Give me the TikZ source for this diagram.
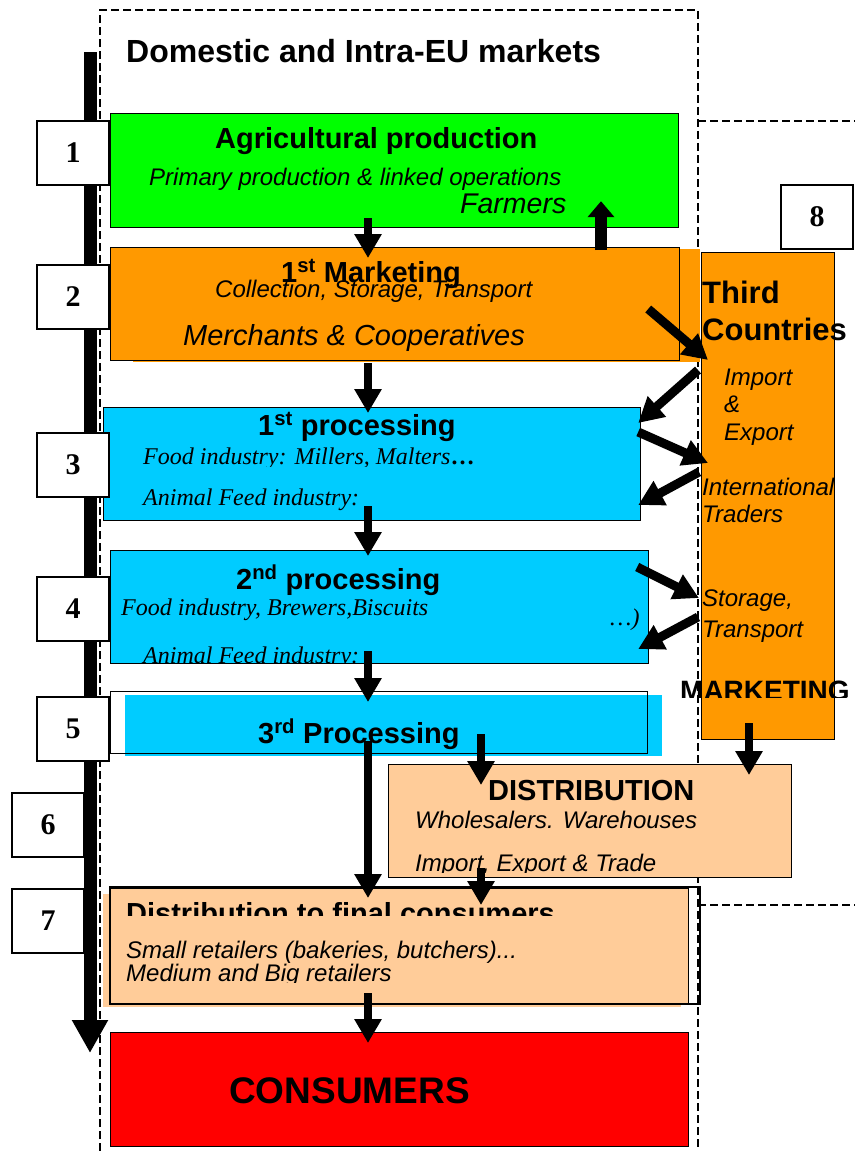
\documentclass[tikz,border=0pt]{standalone}
\usepackage{fontspec}
\setmainfont{Liberation Sans}
\newfontfamily\timesfont{Liberation Serif}
\usepackage{tikz}
\usetikzlibrary{calc,arrows.meta,positioning}
\definecolor{agrigreen}{HTML}{00FF00}
\definecolor{mktorange}{HTML}{FF9900}
\definecolor{proccyan}{HTML}{00CCFF}
\definecolor{distpeach}{HTML}{FFCC99}
\definecolor{consred}{HTML}{FF0000}
\newcommand\fsz[1]{\fontsize{#1}{#1}\selectfont}

\begin{document}
\begin{tikzpicture}[x=1pt,y=-1pt]

\tikzset{numbox/.style={draw,fill=white,line width=1.2pt,minimum width=72pt,minimum height=64pt,inner sep=0pt,font=\timesfont\bfseries\fsz{30}},
stagebox/.style={draw,line width=1.2pt,anchor=north west,inner sep=0pt},
flow/.style={line width=8pt,-{Triangle[width=26pt,length=24pt]}},
sideflow/.style={line width=9pt,-{Triangle[width=26pt,length=25pt]}},
boundary/.style={line width=2pt,dash pattern=on 8pt off 4pt},
lbl/.style={anchor=base west,inner sep=0pt},
ttl/.style={lbl,font=\bfseries\fsz{29}},
sub/.style={lbl,font=\itshape\fsz{24}},
tsub/.style={lbl,font=\timesfont\itshape\fsz{24}}}

\useasboundingbox (0,0) rectangle (855,1151);

% market areas
\draw[boundary] (100,1151) -- (100,10) -- (698,10) -- (698,1151);
\draw[boundary] (698,121) -- (855,121);
\draw[boundary] (698,905) -- (855,905);

% stages
\node[stagebox,fill=agrigreen,minimum width=568pt,minimum height=114pt] (agri) at (110,113) {};
\fill[mktorange] (133,249) rectangle (700,362);
\node[stagebox,fill=mktorange,minimum width=569pt,minimum height=113pt] (mkt) at (110,247) {};
\node[stagebox,fill=proccyan,minimum width=537pt,minimum height=113pt] (proc1) at (103,407) {};
\node[stagebox,fill=proccyan,minimum width=538pt,minimum height=113pt] (proc2) at (110,550) {};
\fill[proccyan] (125,695) rectangle (662,756);
\node[stagebox,minimum width=537pt,minimum height=62pt] (proc3) at (110,691) {};
\node[stagebox,fill=mktorange,minimum width=133pt,minimum height=487pt] (third) at (701,252) {};
\node[stagebox,fill=distpeach,minimum width=403pt,minimum height=113pt] (dist) at (388,764) {};
\fill[distpeach] (103,894) rectangle (681,1007);
\draw[line width=1.2pt] (110,887) rectangle (700,1004);
\node[stagebox,fill=distpeach,minimum width=578pt,minimum height=115pt] (retail) at (110,888) {};
\node[stagebox,fill=consred,minimum width=578pt,minimum height=114pt] (cons) at (110,1032) {};

% texts
\node[lbl,font=\bfseries\fsz{32}] (title) at (126,62) {Domestic and Intra-EU markets};
\node[ttl] (agriT) at (215,148) {Agricultural production};
\node[lbl,font=\itshape\fsz{24}] (agriS) at (149,185) {Primary production \& linked operations};
\node[lbl,font=\itshape\fsz{28.5}] (agriF) at (460,213) {Farmers};
\node[ttl] (mktT) at (281,282) {1\textsuperscript{st} Marketing};
\node[sub] (mktS) at (215,297) {Collection, Storage, Transport};
\node[lbl,font=\itshape\fsz{29}] (mktM) at (183,345) {Merchants \& Cooperatives};
\node[ttl] (p1T) at (258,435) {1\textsuperscript{st} processing};
\begin{scope}
\clip (103,407) rectangle (640,466);
\node[tsub] (p1F) at (143,464) {Food industry: Millers, Malters{\bfseries\upshape …}};
\end{scope}
\node[tsub] (p1A) at (143,505) {Animal Feed industry:};
\node[ttl] (p2T) at (236,589) {2\textsuperscript{nd} processing};
\node[tsub] (p2F) at (121,615) {Food industry, Brewers,Biscuits};
\node[tsub] (p2E) at (610,625) {…)};
\begin{scope}
\clip (110,550) rectangle (648,662);
\node[tsub] (p2A) at (143,663) {Animal Feed industry:};
\end{scope}
\node[ttl] (p3T) at (258,743) {3\textsuperscript{rd} Processing};
\node[lbl,font=\bfseries\fsz{29}] (distT) at (488,800) {DISTRIBUTION};
\node[sub] (distW) at (415,828) {Wholesalers. Warehouses};
\begin{scope}
\clip (388,764) rectangle (791,872);
\node[sub] (distI) at (415,871) {Import, Export \& Trade};
\end{scope}
\begin{scope}
\clip (110,888) rectangle (688,915);
\node[lbl,font=\bfseries\fsz{29}] (retT) at (126,923) {Distribution to final consumers};
\end{scope}
\node[sub] (retS) at (126,958) {Small retailers (bakeries, butchers)...};
\begin{scope}
\clip (110,962) rectangle (688,982);
\node[sub] (retM) at (126,981) {Medium and Big retailers};
\end{scope}
\node[lbl,font=\bfseries\fsz{37}] (consT) at (229,1103) {CONSUMERS};
\node[lbl,font=\bfseries\fsz{31}] (tcT) at (702,303) {Third};
\node[lbl,font=\bfseries\fsz{31}] (tcC) at (702,340) {Countries};
\node[sub] (tcI) at (724,385) {Import};
\node[sub] (tcA) at (724,412) {\&};
\node[sub] (tcE) at (724,440) {Export};
\node[sub] (tcN) at (702,495) {International};
\node[sub] (tcR) at (702,522) {Traders};
\node[sub] (tcS) at (702,606) {Storage,};
\node[sub] (tcP) at (702,637) {Transport};
\begin{scope}
\clip (670,660) rectangle (855,697);
\node[lbl,font=\bfseries\fsz{28}] (tcM) at (680,700) {MARKETING};
\end{scope}

% time axis
\node[numbox] (n6) at (48,825) {6};
\node[numbox] (n7) at (48,921) {7};
\coordinate (axTop) at (90,52);
\coordinate (axEnd) at (90,1053);
\draw[line width=13pt,-{Triangle[width=34pt,length=33pt]}] (axTop) -- (axEnd);
\node[numbox] (n1) at (73,153) {1};
\node[numbox] (n2) at (73,297) {2};
\node[numbox] (n3) at (73,465) {3};
\node[numbox] (n4) at (73,609) {4};
\node[numbox] (n5) at (73,729) {5};
\node[numbox] (n8) at (817,217) {8};

% main chain
\coordinate (spine) at (368,0);
\coordinate (dcol) at (481,0);
\coordinate (tcol) at (749,0);
\coordinate (ucol) at (601,0);
\draw[flow] ($(agri.south -| spine)+(0,-10)$) -- ($(mkt.north -| spine)+(0,11)$);
\draw[flow] ($(mkt.south -| spine)+(0,2)$) -- ($(proc1.north -| spine)+(0,6)$);
\draw[flow] ($(proc1.south -| spine)+(0,-15)$) -- ($(proc2.north -| spine)+(0,6)$);
\draw[flow] ($(proc2.south -| spine)+(0,-13)$) -- ($(proc3.north -| spine)+(0,11)$);
\draw[flow] ($(proc3.south -| spine)+(0,-13)$) -- ($(retail.north -| spine)+(0,10)$);
\draw[flow] ($(retail.south -| spine)+(0,-11)$) -- ($(cons.north -| spine)+(0,11)$);
\draw[flow] ($(proc3.south -| dcol)+(0,-20)$) -- ($(dist.north -| dcol)+(0,21)$);
\draw[flow] ($(dist.south -| dcol)+(0,-10)$) -- ($(retail.north -| dcol)+(0,17)$);
\draw[flow] ($(third.south -| tcol)+(0,-17)$) -- ($(dist.north -| tcol)+(0,11)$);
\draw[line width=12pt,-{Triangle[width=26pt,length=16pt]}] ($(mkt.north -| ucol)+(0,3)$) -- ($(agri.south -| ucol)+(0,-27)$);

% trade with third countries
\draw[sideflow] ($(mkt.north east)+(-32,62)$) -- ($(third.north west)+(7,108)$);
\draw[sideflow] ($(third.north west)+(-3,118)$) -- ($(proc1.north east)+(-3,16)$);
\draw[sideflow] ($(proc1.north east)+(-3,25)$) -- ($(third.north west)+(7,211)$);
\draw[sideflow] ($(third.north west)+(-2,220)$) -- ($(proc1.north east)+(-3,98)$);
\draw[sideflow] ($(proc2.north east)+(-12,17)$) -- ($(third.north west)+(-2,346)$);
\draw[sideflow] ($(third.north west)+(-3,365)$) -- ($(proc2.north east)+(-11,99)$);

\end{tikzpicture}
\end{document}
